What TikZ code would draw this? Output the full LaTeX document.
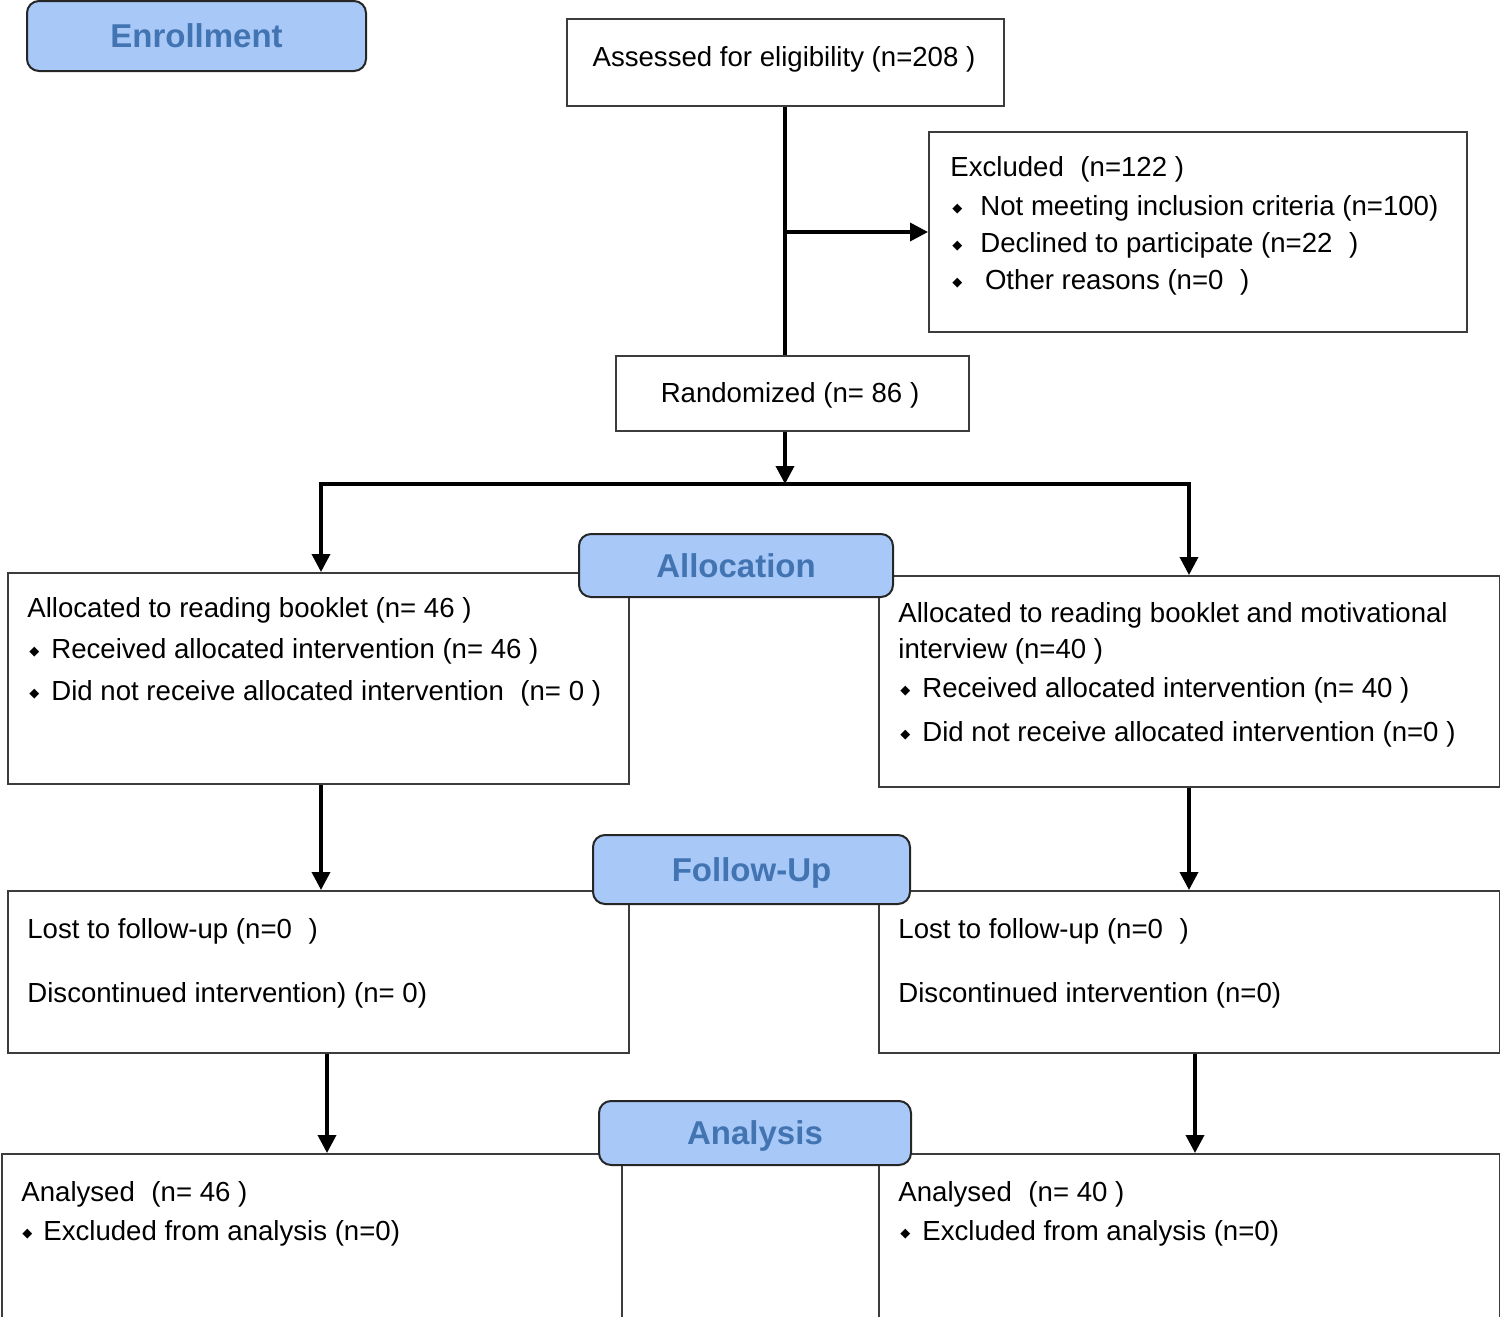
\documentclass[tikz,border=0pt]{standalone}
\usepackage{fontspec}
\setmainfont{Liberation Sans}
\newfontfamily\djv{DejaVu Sans}
\usetikzlibrary{arrows.meta}
\definecolor{lblfill}{RGB}{168,200,248}
\definecolor{lbltext}{RGB}{66,116,178}
\definecolor{boxline}{RGB}{60,60,60}
\newcommand{\bul}{\makebox[14pt][l]{\raisebox{1.3pt}{\djv\fontsize{6.5}{7}\selectfont ◆}}}
\newcommand{\bulb}{\makebox[11pt][l]{\raisebox{1.3pt}{\djv\fontsize{6.5}{7}\selectfont ◆}}}
\newcommand{\bigsp}{\hspace{0.6em}}
\begin{document}
\begin{tikzpicture}[x=0.5pt,y=-0.5pt,
  box/.style={draw=boxline,line width=1pt,fill=white,rectangle,inner sep=0pt,anchor=north west},
  txt/.style={anchor=base west,inner sep=0pt,font=\fontsize{13.8}{16}\selectfont},
  ctxt/.style={anchor=base,inner sep=0pt,font=\fontsize{13.8}{16}\selectfont},
  lbl/.style={draw=black!85,line width=1pt,fill=lblfill,rounded corners=6pt,text=lbltext,
    font=\bfseries\fontsize{16.5}{18}\selectfont,inner sep=0pt,text height=11.8pt,text depth=0pt},
  conn/.style={draw=black,line width=1.8pt},
  arr/.style={conn,-{Triangle[width=9pt,length=9pt]}}
]
\useasboundingbox (0,0) rectangle (1500,1317);

% boxes
\node[box,minimum width={(1003-566)*0.5pt},minimum height={(105-18)*0.5pt}] (assess) at (566,18) {};
\node[box,minimum width={(1466-928)*0.5pt},minimum height={(331-131)*0.5pt}] (excl) at (928,131) {};
\node[box,minimum width={(968-615)*0.5pt},minimum height={(430-355)*0.5pt}] (rand) at (615,355) {};
\node[box,minimum width={(628-7)*0.5pt},minimum height={(783-572)*0.5pt}] (allocL) at (7,572) {};
\node[box,minimum width={(1499-878)*0.5pt},minimum height={(786-575)*0.5pt}] (allocR) at (878,575) {};
\node[box,minimum width={(628-7)*0.5pt},minimum height={(1052-890)*0.5pt}] (fuL) at (7,890) {};
\node[box,minimum width={(1499-878)*0.5pt},minimum height={(1052-890)*0.5pt}] (fuR) at (878,890) {};
\node[box,minimum width={(621-1)*0.5pt},minimum height={(1322-1153)*0.5pt}] (anL) at (1,1153) {};
\node[box,minimum width={(1499-878)*0.5pt},minimum height={(1322-1153)*0.5pt}] (anR) at (878,1153) {};

% coordinates for connectors
\coordinate (trunk) at (785,0);
\coordinate (split) at (785,484);
\coordinate (sL) at (321,484);
\coordinate (sR) at (1189,484);
\coordinate (aL) at (327,0);
\coordinate (aR) at (1195,0);

% connectors
\draw[conn] (assess.south -| trunk) -- (rand.north -| trunk);
\draw[arr] (excl.west -| trunk) -- (excl.west);
\draw[arr] (rand.south -| trunk) -- (split);
\draw[conn,line cap=rect] (sL) -- (sR);
\draw[arr] (sL) -- (sL |- allocL.north);
\draw[arr] (sR) -- (sR |- allocR.north);
\draw[arr] (allocL.south -| sL) -- (fuL.north -| sL);
\draw[arr] (allocR.south -| sR) -- (fuR.north -| sR);
\draw[arr] (fuL.south -| aL) -- (anL.north -| aL);
\draw[arr] (fuR.south -| aR) -- (anR.north -| aR);

% texts
\node[ctxt] (tAssess) at (784,66) {Assessed for eligibility (n=208 )};
\node[txt] (tEx1) at (950,176) {Excluded\bigsp(n=122 )};
\node[txt] (tEx2) at (952,215) {\bul Not meeting inclusion criteria (n=100)};
\node[txt] (tEx3) at (952,252) {\bul Declined to participate (n=22\bigsp)};
\node[txt] (tEx4) at (952,289) {\bul\,Other reasons (n=0\bigsp)};
\node[ctxt] (tRand) at (790,402) {Randomized (n= 86 )};

\node[txt] (tAL1) at (27,617) {Allocated to reading booklet (n= 46 )};
\node[txt] (tAL2) at (29,658) {\bulb Received allocated intervention (n= 46 )};
\node[txt] (tAL3) at (29,700) {\bulb Did not receive allocated intervention\bigsp(n= 0 )};

\node[txt] (tAR1) at (898,622) {Allocated to reading booklet and motivational};
\node[txt] (tAR2) at (898,658) {interview (n=40 )};
\node[txt] (tAR3) at (900,697) {\bulb Received allocated intervention (n= 40 )};
\node[txt] (tAR4) at (900,741) {\bulb Did not receive allocated intervention (n=0 )};

\node[txt] (tFL1) at (27,938) {Lost to follow-up (n=0\bigsp)};
\node[txt] (tFL2) at (27,1002) {Discontinued intervention) (n= 0)};
\node[txt] (tFR1) at (898,938) {Lost to follow-up (n=0\bigsp)};
\node[txt] (tFR2) at (898,1002) {Discontinued intervention (n=0)};

\node[txt] (tNL1) at (21,1201) {Analysed\bigsp(n= 46 )};
\node[txt] (tNL2) at (22,1240) {\makebox[10.5pt][l]{\raisebox{1.3pt}{\djv\fontsize{6.5}{7}\selectfont ◆}}Excluded from analysis (n=0)};
\node[txt] (tNR1) at (898,1201) {Analysed\bigsp(n= 40 )};
\node[txt] (tNR2) at (900,1240) {\bulb Excluded from analysis (n=0)};

% stage labels
\node[lbl,minimum width=169.5pt,minimum height=35pt] (lEnroll) at (196.5,36) {Enrollment};
\node[lbl,minimum width=157pt,minimum height=31.5pt] (lAlloc) at (736,565.5) {Allocation};
\node[lbl,minimum width=158.5pt,minimum height=34.5pt] (lFollow) at (751.5,869.5) {Follow-Up};
\node[lbl,minimum width=156pt,minimum height=32pt] (lAnal) at (755,1133) {Analysis};
\end{tikzpicture}
\end{document}
